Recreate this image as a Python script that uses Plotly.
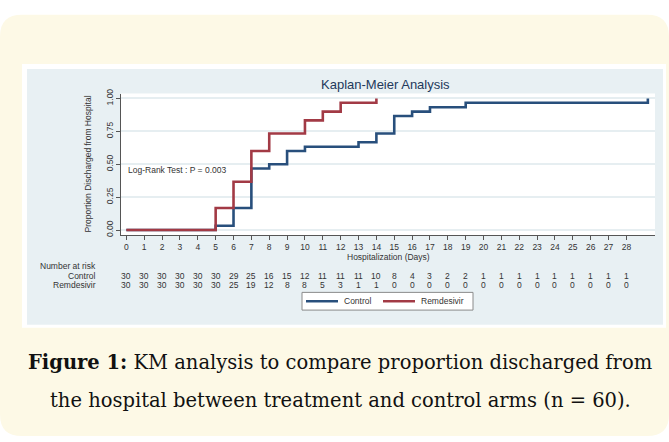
import plotly.graph_objects as go

W, H = 669, 442

# ---------------- data ----------------
control_days = [0, 5, 6, 7, 8, 9, 10, 13, 14, 15, 16, 17, 19, 29.2]
control_prop = [0, 0.033, 0.167, 0.467, 0.5, 0.6, 0.633, 0.667, 0.733, 0.867, 0.9, 0.933, 0.967, 1.0]
remdesivir_days = [0, 5, 6, 7, 8, 10, 11, 12, 14]
remdesivir_prop = [0, 0.167, 0.367, 0.6, 0.733, 0.833, 0.9, 0.967, 1.0]

risk_days = list(range(29))
control_risk = [30, 30, 30, 30, 30, 30, 29, 25, 16, 15, 12, 11, 11, 11, 10, 8, 4, 3, 2, 2, 1, 1, 1, 1, 1, 1, 1, 1, 1]
remdesivir_risk = [30, 30, 30, 30, 30, 30, 25, 19, 12, 8, 8, 5, 3, 1, 1, 0, 0, 0, 0, 0, 0, 0, 0, 0, 0, 0, 0, 0, 0]

y_ticks = [0, 0.25, 0.5, 0.75, 1.0]
y_ticklabels = ["0.00", "0.25", "0.50", "0.75", "1.00"]

BLUE = "#284f7c"
RED = "#a23a45"
FONT = "Liberation Sans"
TXT = "#333333"


def px(x):
    return x / W


def py(y):
    return 1 - y / H


fig = go.Figure()
fig.add_trace(go.Scatter(x=control_days, y=control_prop, mode="lines", line_shape="hv",
                         line=dict(color=BLUE, width=2.6), name="Control", showlegend=False))
fig.add_trace(go.Scatter(x=remdesivir_days, y=remdesivir_prop, mode="lines", line_shape="hv",
                         line=dict(color=RED, width=2.6), name="Remdesivir", showlegend=False))

# plot area in pixels
L, R, T, B = 121, 655, 90, 234

shapes = []
r = 22
x0, y0, x1, y1 = 0, 10, 669, 438
path = (f"M {px(x0+r)},{py(y0)} L {px(x1-r)},{py(y0)} Q {px(x1)},{py(y0)} {px(x1)},{py(y0+r)} "
        f"L {px(x1)},{py(y1-r)} Q {px(x1)},{py(y1)} {px(x1-r)},{py(y1)} "
        f"L {px(x0+r)},{py(y1)} Q {px(x0)},{py(y1)} {px(x0)},{py(y1-r)} "
        f"L {px(x0)},{py(y0+r)} Q {px(x0)},{py(y0)} {px(x0+r)},{py(y0)} Z")
shapes.append(dict(type="path", xref="paper", yref="paper", path=path,
                   fillcolor="#fdf9e6", line=dict(width=0), layer="below"))
shapes.append(dict(type="rect", xref="paper", yref="paper", x0=px(22), x1=px(666), y0=py(60), y1=py(328),
                   fillcolor="#ffffff", line=dict(width=0), layer="below"))
shapes.append(dict(type="rect", xref="paper", yref="paper", x0=px(27), x1=px(663), y0=py(65), y1=py(325),
                   fillcolor="#e8f0f3", line=dict(width=0), layer="below"))
shapes.append(dict(type="rect", xref="paper", yref="paper", x0=px(L), x1=px(R), y0=py(B), y1=py(T),
                   fillcolor="#ffffff", line=dict(width=0), layer="below"))
# legend box
shapes.append(dict(type="rect", xref="paper", yref="paper", x0=px(302), x1=px(473), y0=py(310), y1=py(292),
                   fillcolor="#ffffff", line=dict(width=1, color="#8a8a8a"), layer="above"))
shapes.append(dict(type="line", xref="paper", yref="paper", x0=px(306), x1=px(338), y0=py(301), y1=py(301),
                   line=dict(width=2.5, color=BLUE), layer="above"))
shapes.append(dict(type="line", xref="paper", yref="paper", x0=px(383), x1=px(415), y0=py(301), y1=py(301),
                   line=dict(width=2.5, color=RED), layer="above"))

annotations = []


def txt(text, x, y, xref="paper", yref="paper", size=8.5, xanchor="center", color=TXT, family=FONT, angle=0):
    annotations.append(dict(text=text, x=x, y=y, xref=xref, yref=yref, showarrow=False, textangle=angle,
                            font=dict(family=family, size=size, color=color),
                            xanchor=xanchor, yanchor="middle"))


txt("Kaplan-Meier Analysis", px(385), py(81), size=13, color="#23395b")
txt("Proportion Discharged from Hospital", px(88), py(162), angle=-90)
txt("Hospitalization (Days)", px(388), py(256))
txt("Log-Rank Test : P = 0.003", 0.0, 0.457, xref="x", yref="y", xanchor="left")
txt("Number at risk", px(98), py(265), xanchor="right")
txt("Control", px(98), py(275), xanchor="right")
txt("Remdesivir", px(98), py(285), xanchor="right")
for d, c, rr in zip(risk_days, control_risk, remdesivir_risk):
    txt(str(c), d, py(275), xref="x")
    txt(str(rr), d, py(285), xref="x")
txt("Control", px(342), py(301), xanchor="left")
txt("Remdesivir", px(419), py(301), xanchor="left")

CAP = "DejaVu Serif"
txt("<b>Figure 1:</b> KM analysis to compare proportion discharged from", px(340), py(363),
    size=19.5, color="#111111", family=CAP)
txt("the hospital between treatment and control arms (n = 60).", px(340), py(402),
    size=19.5, color="#111111", family=CAP)

fig.update_layout(
    width=W, height=H,
    margin=dict(l=0, r=0, t=0, b=0),
    paper_bgcolor="#ffffff",
    plot_bgcolor="rgba(0,0,0,0)",
    shapes=shapes,
    annotations=annotations,
    showlegend=False,
    xaxis=dict(domain=[px(L), px(R)], range=[-0.3, 29.6], tickmode="array",
               tickvals=risk_days, ticktext=[str(d) for d in risk_days],
               showgrid=False, zeroline=False, showline=True, linecolor="#555555", linewidth=1,
               ticks="outside", ticklen=4, tickcolor="#555555",
               tickfont=dict(family=FONT, size=8.5, color=TXT)),
    yaxis=dict(domain=[py(B), py(T)], range=[-0.04, 1.037], tickmode="array",
               tickvals=y_ticks, ticktext=y_ticklabels, tickangle=-90,
               showgrid=True, gridcolor="#e6eef1", gridwidth=1.5, zeroline=False,
               showline=True, linecolor="#555555", linewidth=1,
               ticks="outside", ticklen=4, tickcolor="#555555",
               tickfont=dict(family=FONT, size=8.5, color=TXT)),
)

fig.write_html("out.html", config={"displayModeBar": False},
               post_script="document.body.style.margin='0px';")
